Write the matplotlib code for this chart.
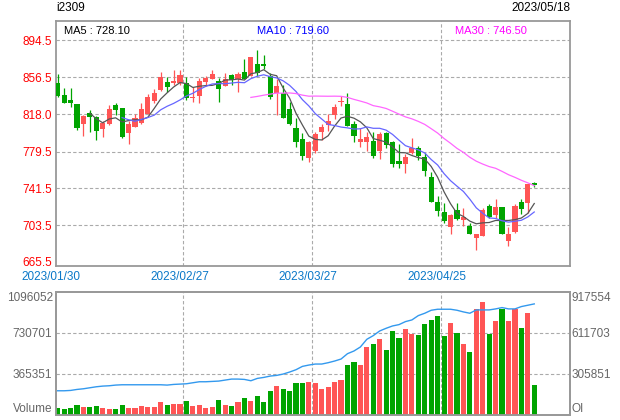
import matplotlib
matplotlib.use('Agg')
import matplotlib.pyplot as plt
import numpy as np
import pandas as pd
from matplotlib.transforms import blended_transform_factory

plt.rcParams['font.family'] = ['Liberation Sans', 'DejaVu Sans']

symbol = 'i2309'
last_date = '2023/05/18'

opens = [850.7, 838.3, 832.8, 828.7, 808.0, 819.7, 815.0, 803.2, 807.7, 827.7,
         824.3, 798.4, 805.3, 808.8, 818.4, 832.1, 843.2, 851.4, 850.1, 850.7,
         850.7, 835.2, 837.3, 851.7, 854.8, 852.1, 847.6, 859.0, 854.2, 862.1,
         857.6, 870.0, 870.0, 857.9, 839.8, 839.8, 823.5, 803.6, 792.5, 773.2,
         780.5, 800.1, 807.0, 817.3, 830.5, 828.7, 808.0, 789.1, 789.7, 790.8,
         780.5, 799.0, 789.7, 770.1, 766.4, 777.8, 783.6, 774.2, 753.6, 727.8,
         716.8, 701.9, 718.9, 708.9, 702.7, 690.6, 692.3, 723.6, 714.4, 722.0,
         687.5, 696.2, 727.5, 726.1, 746.6]
closes = [837.0, 830.0, 830.0, 803.6, 816.6, 815.6, 801.1, 809.4, 823.5, 822.5,
          794.3, 808.0, 813.9, 823.2, 835.6, 840.4, 856.3, 846.0, 852.8, 858.6,
          835.2, 836.2, 852.5, 855.9, 860.0, 844.5, 854.5, 853.5, 860.0, 854.5,
          877.2, 861.0, 867.9, 836.2, 847.3, 814.5, 808.3, 789.7, 775.3, 789.7,
          797.7, 805.3, 811.5, 825.6, 831.1, 806.3, 795.9, 792.5, 794.9, 775.3,
          797.7, 786.3, 767.0, 766.4, 774.2, 783.6, 775.3, 759.8, 727.8, 718.5,
          708.1, 714.4, 709.9, 711.7, 694.4, 694.4, 719.2, 711.7, 722.3, 694.4,
          694.4, 723.3, 720.2, 746.1, 745.5]
highs = [859.7, 844.9, 844.9, 829.0, 817.0, 822.5, 816.3, 811.1, 827.7, 830.0,
         825.0, 811.1, 818.4, 829.4, 839.0, 843.9, 861.8, 856.3, 863.8, 863.8,
         856.3, 846.6, 855.9, 857.6, 863.8, 855.9, 860.4, 859.3, 861.8, 875.2,
         877.5, 884.5, 879.3, 861.0, 854.2, 848.0, 830.5, 813.9, 798.4, 790.0,
         799.5, 807.7, 818.4, 828.7, 837.0, 840.4, 811.5, 803.6, 799.5, 800.1,
         800.1, 799.3, 790.0, 787.1, 777.0, 793.3, 785.6, 778.4, 758.1, 733.6,
         726.1, 714.7, 726.1, 720.9, 705.4, 694.7, 720.9, 725.1, 730.6, 722.3,
         701.9, 725.1, 730.9, 746.3, 748.4]
lows = [835.6, 829.5, 825.9, 801.8, 796.0, 800.1, 791.5, 794.9, 807.0, 817.3,
        793.3, 787.4, 805.0, 808.5, 818.0, 829.4, 842.4, 841.4, 848.6, 848.6,
        832.8, 830.8, 829.4, 847.6, 854.2, 830.8, 847.3, 848.0, 841.1, 854.2,
        857.3, 857.6, 864.5, 834.2, 817.3, 814.3, 806.7, 784.0, 770.9, 769.1,
        778.4, 791.5, 800.8, 812.9, 826.6, 806.0, 789.7, 784.3, 780.1, 772.6,
        771.6, 782.9, 763.9, 762.9, 757.7, 777.5, 770.5, 754.6, 727.2, 713.0,
        705.4, 694.4, 708.9, 702.7, 694.1, 678.2, 692.0, 710.6, 710.6, 694.1,
        682.0, 695.1, 715.1, 716.4, 743.3]
volume = [59400, 50500, 59400, 86100, 68300, 68300, 77200, 59400, 50500, 50500,
          86100, 59400, 59400, 77200, 68300, 68300, 112900, 86100, 95000, 95000,
          121800, 77200, 86100, 59400, 68300, 130700, 86100, 77200, 112900, 148500,
          121800, 166300, 112900, 210900, 255400, 228700, 210900, 282200, 282200, 291100,
          282200, 228700, 246500, 291100, 308900, 442500, 469300, 442500, 602900, 629600,
          674200, 576200, 745500, 683100, 763300, 718700, 709800, 807800, 843500, 879100,
          700900, 816800, 727700, 629600, 558400, 941500, 1003900, 718700, 834600, 941500,
          834600, 941500, 772200, 905900, 264300]
open_interest = [180300, 180300, 182800, 190200, 195200, 202700, 210100, 215100, 217600, 222600,
                 225000, 225000, 225000, 225000, 225000, 225000, 225000, 222600, 227500, 230000,
                 232500, 240000, 247400, 247400, 249900, 252400, 259800, 267300, 267300, 264800,
                 254900, 272300, 279700, 289700, 294700, 304600, 319500, 336900, 361800, 371700,
                 379200, 379200, 389200, 401600, 416500, 456300, 476200, 506000, 563200, 590600,
                 625400, 645300, 662700, 672600, 695000, 707400, 739800, 757200, 779500, 787000,
                 787000, 787000, 779500, 767100, 757200, 782000, 782000, 782000, 789500, 799400,
                 789500, 789500, 806900, 816800, 826800]

date_labels = ['2023/01/30', '2023/02/27', '2023/03/27', '2023/04/25']
date_label_idx = [0, 20, 40, 60]
price_ticks = [894.5, 856.5, 818.0, 779.5, 741.5, 703.5, 665.5]
price_tick_labels = ['894.5', '856.5', '818.0', '779.5', '741.5', '703.5', '665.5']
vol_ticks = [0, 365351, 730701, 1096052]
vol_tick_labels = ['Volume', '365351', '730701', '1096052']
oi_ticks = [0, 305851, 611703, 917554]
oi_tick_labels = ['OI', '305851', '611703', '917554']
ma_periods = [5, 10, 30]
ma_legend_values = ['728.10', '719.60', '746.50']

RED = '#ff5555'
GREEN = '#00a400'
GRID = '#aaaaaa'
FRAME = '#999999'
ma_colors = ['#555555', '#6666ff', '#ff66ff']
ma_text_colors = ['#000000', '#0000ff', '#ff00ff']

o = np.array(opens); c = np.array(closes); h = np.array(highs); l = np.array(lows)
n = len(o)
x = np.arange(n)
up = c >= o
colors = np.where(up, RED, GREEN)

fig = plt.figure(figsize=(6.2, 4.2), dpi=100)
ax = fig.add_axes([56 / 620, 1 - 266 / 420, 514 / 620, (266 - 20.7) / 420])
axv = fig.add_axes([56 / 620, 1 - 415 / 420, 514 / 620, (415 - 291.7) / 420])

xlim = (-0.26, 79.55)
dash = (0, (3, 2))

# ---- price panel ----
ax.set_xlim(*xlim)
ax.set_ylim(661.35, 914.75)
for v in price_ticks[:-1]:
    ax.axhline(v, color=GRID, ls=dash, lw=0.8, zorder=1)
for idx in date_label_idx[1:]:
    ax.axvline(idx - 0.5, color=GRID, ls=dash, lw=0.8, zorder=1)

ax.vlines(x, l, h, colors=colors, linewidth=0.9, zorder=3)
body_bottom = np.minimum(o, c)
body_h = np.maximum(np.abs(c - o), 1.0)
ax.bar(x, body_h, bottom=body_bottom, width=0.8, color=colors, linewidth=0, zorder=4)

cs = pd.Series(c)
for p, col in zip(ma_periods, ma_colors):
    ma = cs.rolling(p).mean().to_numpy()
    ma[:p] = np.nan
    ax.plot(x, ma, color=col, lw=0.9, zorder=5)

ax.set_yticks(price_ticks)
ax.set_yticklabels(price_tick_labels)
ax.tick_params(axis='y', length=0, pad=3, labelcolor='#ff0000', labelsize=8.5)
ax.set_xticks([])
for s in ax.spines.values():
    s.set_color(FRAME)
    s.set_linewidth(1.3)

tr = blended_transform_factory(ax.transData, ax.transAxes)
for lab, idx in zip(date_labels, date_label_idx):
    ax.text(idx - 0.5 - 0.6, -0.043, lab, transform=tr, ha='center', va='center',
            color='#0a78c8', fontsize=8.5, clip_on=False)

ma_x = [64, 257, 455]
for p, val, col, px in zip(ma_periods, ma_legend_values, ma_text_colors, ma_x):
    fig.text(px / 620, 1 - 31 / 420, f'MA{p} : {val}', color=col, fontsize=8,
             ha='left', va='center')

fig.text(56 / 620, 1 - 8.3 / 420, symbol, fontsize=8.5, ha='left', va='center', color='#000000')
fig.text(570 / 620, 1 - 8.3 / 420, last_date, fontsize=8.5, ha='right', va='center', color='#000000')

# ---- volume / OI panel ----
axv.set_xlim(*xlim)
axv.set_ylim(0, vol_ticks[-1])
for v in vol_ticks[1:-1]:
    axv.axhline(v, color=GRID, ls=dash, lw=0.8, zorder=1)
for idx in date_label_idx[1:]:
    axv.axvline(idx - 0.5, color=GRID, ls=dash, lw=0.8, zorder=1)
axv.bar(x, volume, width=0.8, color=colors, linewidth=0, zorder=3)
axv.set_xticks([])
axv.set_yticks(vol_ticks[1:-1])
axv.set_yticklabels(vol_tick_labels[1:-1])
axv.tick_params(axis='y', length=0, pad=3, labelcolor='#666666', labelsize=8.5)
trl = blended_transform_factory(axv.transAxes, axv.transData)
axv.text(-0.006, vol_ticks[-1], vol_tick_labels[-1], transform=trl, ha='right', va='top',
         color='#666666', fontsize=8.5)
axv.text(-0.006, vol_ticks[0], vol_tick_labels[0], transform=trl, ha='right', va='bottom',
         color='#666666', fontsize=8.5)
for s in axv.spines.values():
    s.set_color(FRAME)
    s.set_linewidth(1.3)

axo = axv.twinx()
axo.set_xlim(*xlim)
axo.set_ylim(0, oi_ticks[-1])
axo.plot(x, open_interest, color='#3399ee', lw=1.0, zorder=4)
axo.set_yticks(oi_ticks[1:-1])
axo.set_yticklabels(oi_tick_labels[1:-1])
axo.tick_params(axis='y', length=0, pad=1, labelcolor='#666666', labelsize=8.5)
tro = blended_transform_factory(axo.transAxes, axo.transData)
axo.text(1.002, oi_ticks[-1], oi_tick_labels[-1], transform=tro, ha='left', va='top',
         color='#666666', fontsize=8.5)
axo.text(1.002, oi_ticks[0], oi_tick_labels[0], transform=tro, ha='left', va='bottom',
         color='#666666', fontsize=8.5)
for s in axo.spines.values():
    s.set_color(FRAME)
    s.set_linewidth(1.3)

fig.savefig('out.png', dpi=100)
